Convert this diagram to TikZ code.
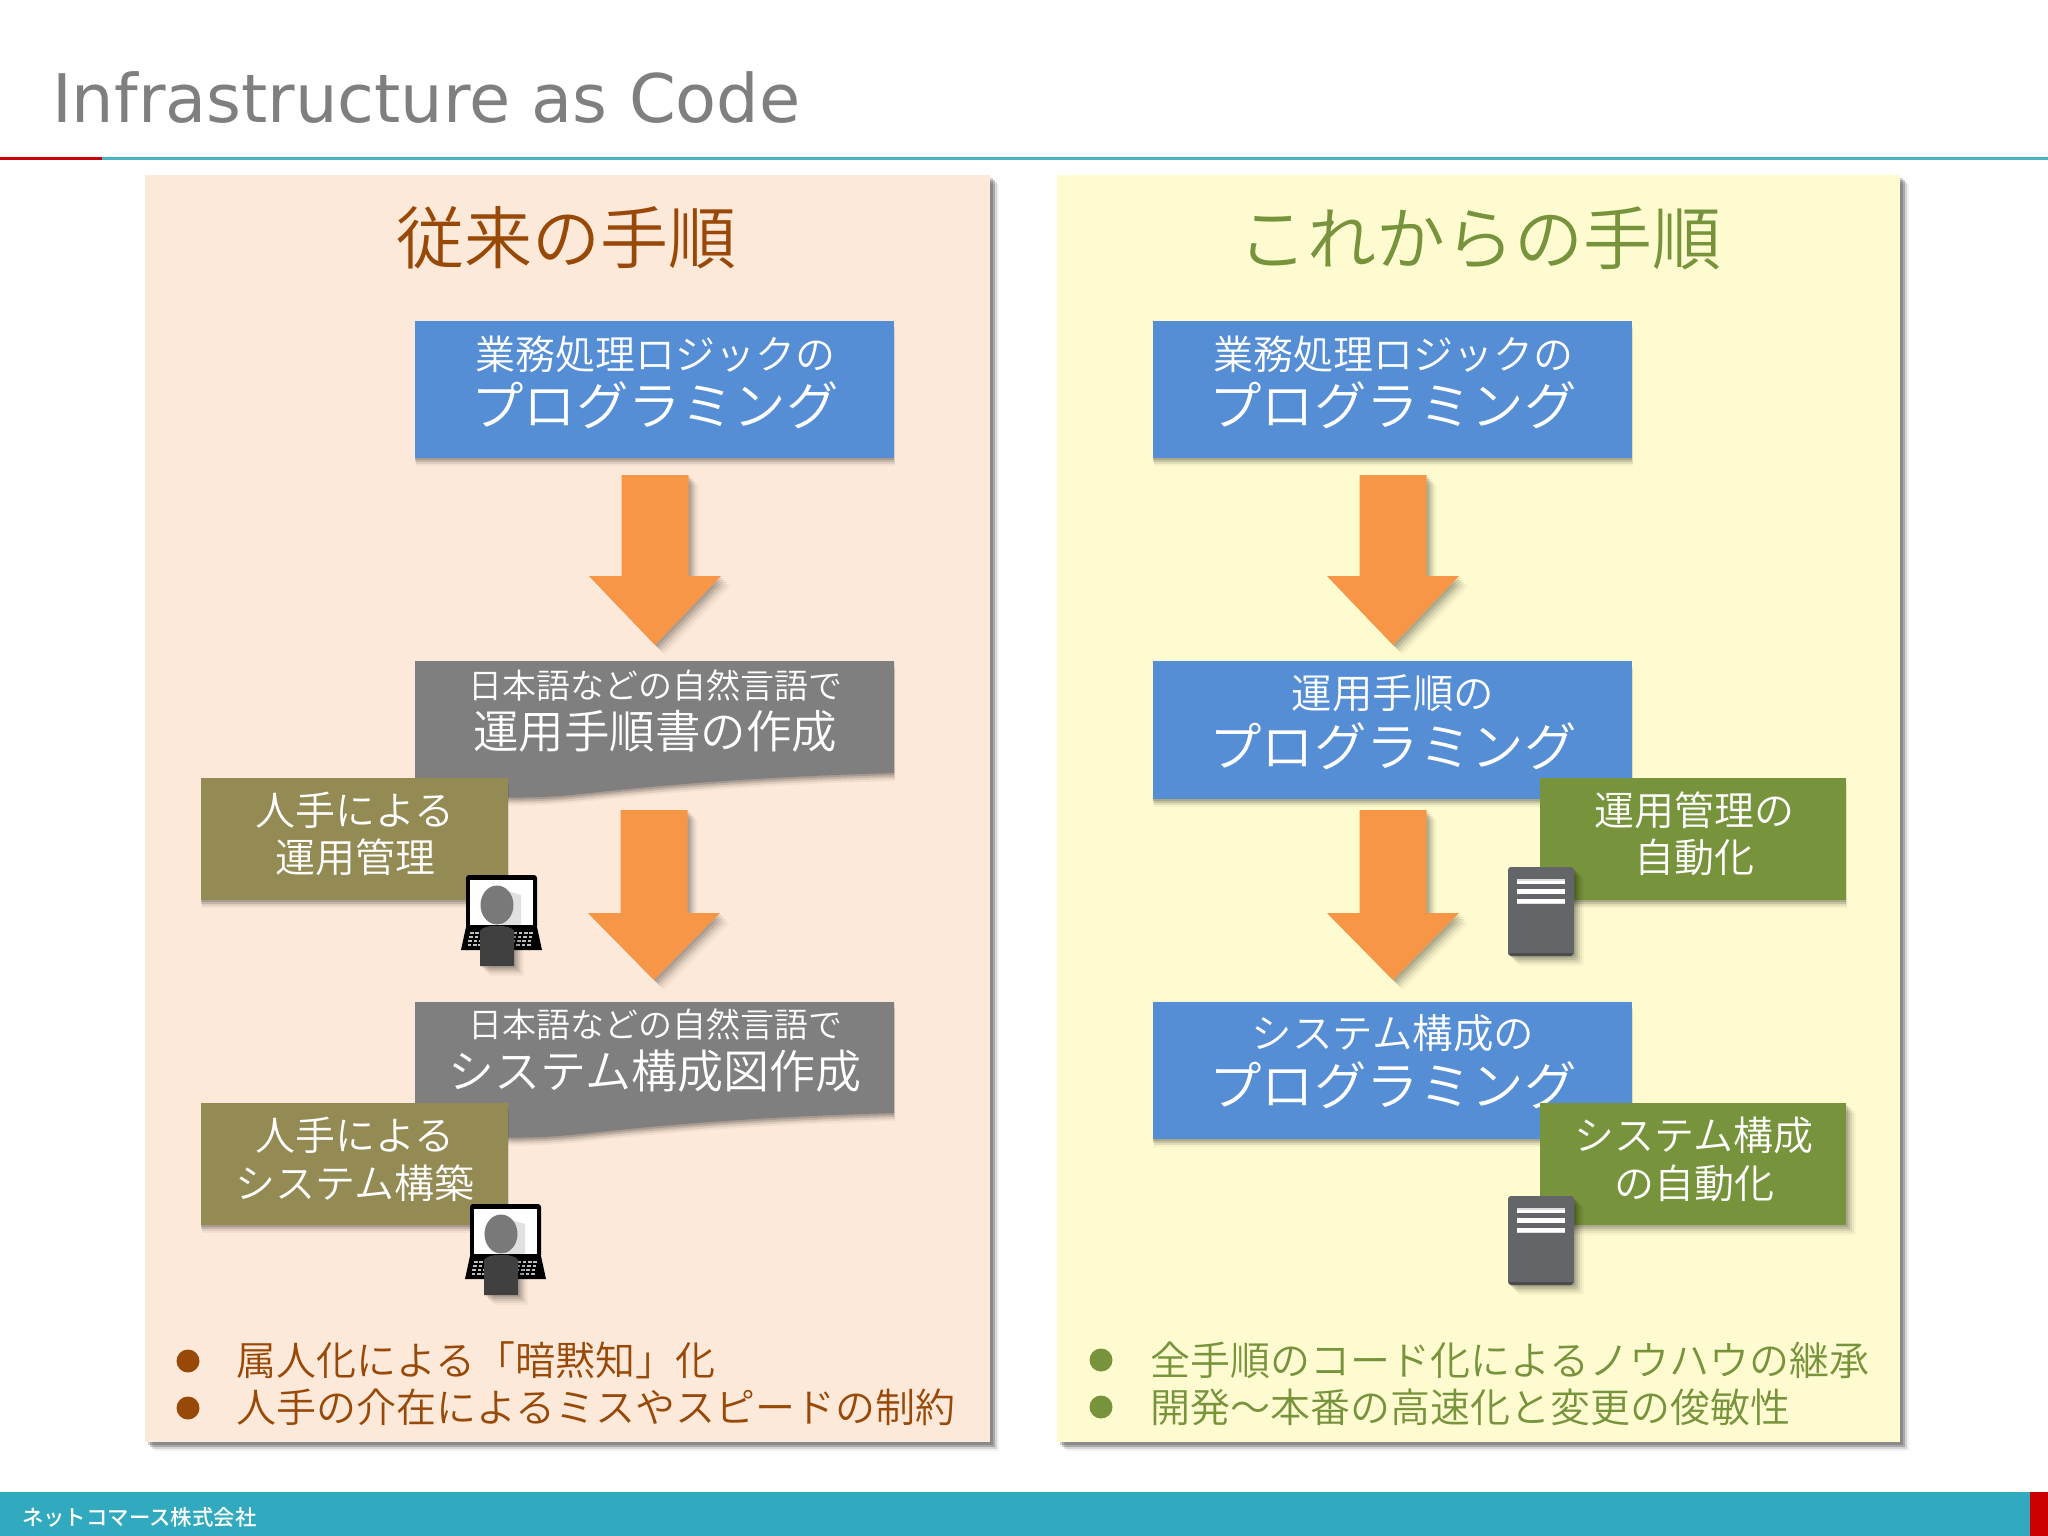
\documentclass[tikz,border=0pt]{standalone}
\usepackage{fontspec}
\setmainfont{DejaVu Sans}
\newfontfamily\cjk{Noto Sans CJK JP}[UprightFont={* DemiLight},BoldFont={* Medium}]
\usetikzlibrary{shadows,calc}
\definecolor{pL}{HTML}{FDE9D9}
\definecolor{pR}{HTML}{FEFBD0}
\definecolor{bluebox}{HTML}{558ED5}
\definecolor{greybox}{HTML}{7F7F7F}
\definecolor{olivebox}{HTML}{948A54}
\definecolor{greenbox}{HTML}{77933C}
\definecolor{orangeA}{HTML}{F79646}
\definecolor{brownT}{HTML}{984807}
\definecolor{greenT}{HTML}{77933C}
\definecolor{teal}{HTML}{31A9BE}
\definecolor{tealL}{HTML}{4BB4C5}
\definecolor{redA}{HTML}{CC0000}
\definecolor{srv}{HTML}{636569}
\tikzset{
  softsh/.style={
    general shadow={shadow xshift=2pt,shadow yshift=-2pt,fill=black,opacity=.10},
    general shadow={shadow xshift=4pt,shadow yshift=-4pt,fill=black,opacity=.10},
    general shadow={shadow xshift=6pt,shadow yshift=-6pt,fill=black,opacity=.08},
    general shadow={shadow xshift=8pt,shadow yshift=-8pt,fill=black,opacity=.05},
    general shadow={shadow xshift=10pt,shadow yshift=-10pt,fill=black,opacity=.03}},
  bottomsh/.style={
    general shadow={shadow xshift=0pt,shadow yshift=-2pt,fill=black,opacity=.14},
    general shadow={shadow xshift=0pt,shadow yshift=-4pt,fill=black,opacity=.12},
    general shadow={shadow xshift=1pt,shadow yshift=-6pt,fill=black,opacity=.08},
    general shadow={shadow xshift=1pt,shadow yshift=-8pt,fill=black,opacity=.04}},
  panelsh/.style={
    general shadow={shadow xshift=3pt,shadow yshift=-3pt,fill=black,opacity=.18},
    general shadow={shadow xshift=5pt,shadow yshift=-5pt,fill=black,opacity=.2},
    general shadow={shadow xshift=7pt,shadow yshift=-7pt,fill=black,opacity=.12},
    general shadow={shadow xshift=9pt,shadow yshift=-9pt,fill=black,opacity=.05}},
  rectn/.style={anchor=north west,inner sep=0pt,outer sep=0pt,draw=none},
  panel/.style={rectn,panelsh},
  card/.style={rectn,bottomsh},
  cardd/.style={rectn,softsh},
  lbl/.style={inner sep=0pt,text=white,font=\cjk\fontsize{#1}{#1}\selectfont,anchor=center},
  head/.style={inner sep=0pt,font=\cjk\fontsize{#1}{#1}\selectfont,anchor=center},
  bullettext/.style={inner sep=0pt,anchor=west,font=\cjk\fontsize{40}{40}\selectfont},
  bulletdot/.style={circle,inner sep=0pt,minimum size=23pt},
  blockarrow/.style={fill=orangeA,draw=none,softsh},
  docshape/.style={fill=greybox,draw=none,bottomsh},
}
\newcommand{\boxat}[7]{\node[#2,fill=#3,minimum width=#6pt-#4pt,minimum height=#7pt-#5pt] (#1) at (#4,#5) {};}
% x centre, top y, head y, tip y
\newcommand{\barrow}[4]{\path[blockarrow] (#1-33.5,#2) -- (#1+33.5,#2) -- (#1+33.5,#3) -- (#1+66,#3) -- (#1,#4) -- (#1-66,#3) -- (#1-33.5,#3) -- cycle;}
\newcommand{\laptopat}[2]{\begin{scope}[shift={(#1,#2)}]
  \path[fill=black,rounded corners=3pt] (5,0) rectangle (76,54);
  \path[fill=white] (9,5) rectangle (72,50);
  \path[fill=black] (5,52) -- (76,52) -- (81,75) -- (0,75) -- cycle;
  \foreach \r in {57,61,65,69}{\foreach \c in {0,...,11}{
     \path[fill=white!75!black] ({9+\c*5.4-(\r-57)*.2},\r) rectangle ++(3.6,2.2);}}
  \path[fill=black,opacity=.12] (40,14) -- (60,20) -- (60,50) -- (40,50) -- cycle;
  \path[fill=gray!95!black] (36,30) ellipse [x radius=16.5pt,y radius=19.5pt];
  \path[fill=black!75,softsh] (19,91) -- (19,56) .. controls (22,49) and (50,49) .. (53,56) -- (53,91) -- cycle;
\end{scope}}
\newcommand{\serverat}[2]{\begin{scope}[shift={(#1,#2)}]
  \path[fill=srv,softsh,rounded corners=3pt] (0,0) rectangle (66,89);
  \path[fill=black!70] (1,86) -- (65,86) -- (63,89) -- (3,89) -- cycle;
  \path[fill=white!75!gray] (9,12) rectangle (57,37);
  \foreach \a/\b in {14/17,22/27,32/36}{\path[fill=white] (9,\a) rectangle (57,\b);}
  \foreach \a/\b in {17/22,27/32}{\path[fill=srv] (9,\a) rectangle (57,\b);}
\end{scope}}
\begin{document}
\begin{tikzpicture}[x=1pt,y=-1pt]
\useasboundingbox (0,0) rectangle (2048,1536);
\fill[white] (0,0) rectangle (2048,1536);
% header
\node[inner sep=0pt,anchor=west,text=greybox,font=\fontsize{67}{67}\selectfont] (title) at (52,98) {Infrastructure as Code};
\fill[tealL] (102,157) rectangle (2048,160);
\fill[redA] (0,157) rectangle (102,160);
% footer
\fill[teal] (0,1492) rectangle (2048,1536);
\fill[redA] (2030,1492) rectangle (2048,1536);
\node[inner sep=0pt,anchor=west,text=white,font=\cjk\bfseries\fontsize{21.4}{21.4}\selectfont] (company) at (22,1517) {ネットコマース株式会社};
% panels
\boxat{panelL}{panel}{pL}{145}{175}{990}{1442}
\boxat{panelR}{panel}{pR}{1057}{175}{1900}{1442}
\node[head=68,text=brownT] (headL) at (566,238) {従来の手順};
\node[head=69,text=greenT] (headR) at (1480,238) {これからの手順};
% left column
\boxat{boxLa}{card}{bluebox}{415}{321}{894}{458}
\node[lbl=40] (tLa1) at (655,354) {業務処理ロジックの};
\node[lbl=52.5] (tLa2) at (655,405) {プログラミング};
\barrow{655}{475}{576}{645}
\path[docshape] (415,661) -- (894,661) -- (894,773) .. controls (780,776) and (680,783) .. (590,793) .. controls (530,800) and (470,800) .. (415,785) -- cycle;
\node[lbl=34] (tLb1) at (655,685) {日本語などの自然言語で};
\node[lbl=45.5] (tLb2) at (655,731) {運用手順書の作成};
\barrow{654}{810}{913}{980}
\boxat{oliveA}{card}{olivebox}{201}{778}{508}{900}
\node[lbl=40] (tOa1) at (355,810) {人手による};
\node[lbl=40] (tOa2) at (355,857) {運用管理};
\laptopat{461}{875}
\path[docshape] (415,1002) -- (894,1002) -- (894,1113) .. controls (780,1116) and (680,1123) .. (590,1133) .. controls (530,1140) and (470,1140) .. (415,1125) -- cycle;
\node[lbl=34] (tLc1) at (655,1024) {日本語などの自然言語で};
\node[lbl=46] (tLc2) at (655,1071) {システム構成図作成};
\boxat{oliveB}{card}{olivebox}{201}{1103}{508}{1225}
\node[lbl=40] (tOb1) at (355,1135) {人手による};
\node[lbl=40] (tOb2) at (355,1183) {システム構築};
\laptopat{465}{1204}
% right column
\boxat{boxRa}{card}{bluebox}{1153}{321}{1632}{458}
\node[lbl=40] (tRa1) at (1393,354) {業務処理ロジックの};
\node[lbl=52.5] (tRa2) at (1393,405) {プログラミング};
\barrow{1393}{475}{576}{645}
\boxat{boxRb}{card}{bluebox}{1153}{661}{1632}{799}
\node[lbl=40.5] (tRb1) at (1393,693) {運用手順の};
\node[lbl=52.5] (tRb2) at (1393,746) {プログラミング};
\barrow{1393}{810}{913}{980}
\boxat{greenA}{card}{greenbox}{1540}{778}{1846}{900}
\node[lbl=40] (tGa1) at (1694,810) {運用管理の};
\node[lbl=40] (tGa2) at (1694,857) {自動化};
\serverat{1508}{867}
\boxat{boxRc}{card}{bluebox}{1153}{1002}{1632}{1139}
\node[lbl=40.5] (tRc1) at (1393,1033) {システム構成の};
\node[lbl=52.5] (tRc2) at (1393,1085) {プログラミング};
\boxat{greenB}{cardd}{greenbox}{1540}{1103}{1846}{1225}
\node[lbl=40] (tGb1) at (1694,1135) {システム構成};
\node[lbl=40] (tGb2) at (1694,1183) {の自動化};
\serverat{1508}{1196}
% bullets
\node[bulletdot,fill=brownT] (dL1) at (188,1361) {};
\node[bulletdot,fill=brownT] (dL2) at (188,1408) {};
\node[bullettext,text=brownT] (bL1) at (236,1360) {属人化による「暗黙知」化};
\node[bullettext,text=brownT] (bL2) at (236,1407) {人手の介在によるミスやスピードの制約};
\node[bulletdot,fill=greenT] (dR1) at (1101,1360) {};
\node[bulletdot,fill=greenT] (dR2) at (1101,1407) {};
\node[bullettext,text=greenT] (bR1) at (1150,1360) {全手順のコード化によるノウハウの継承};
\node[bullettext,text=greenT] (bR2) at (1150,1407) {開発～本番の高速化と変更の俊敏性};
\end{tikzpicture}
\end{document}
